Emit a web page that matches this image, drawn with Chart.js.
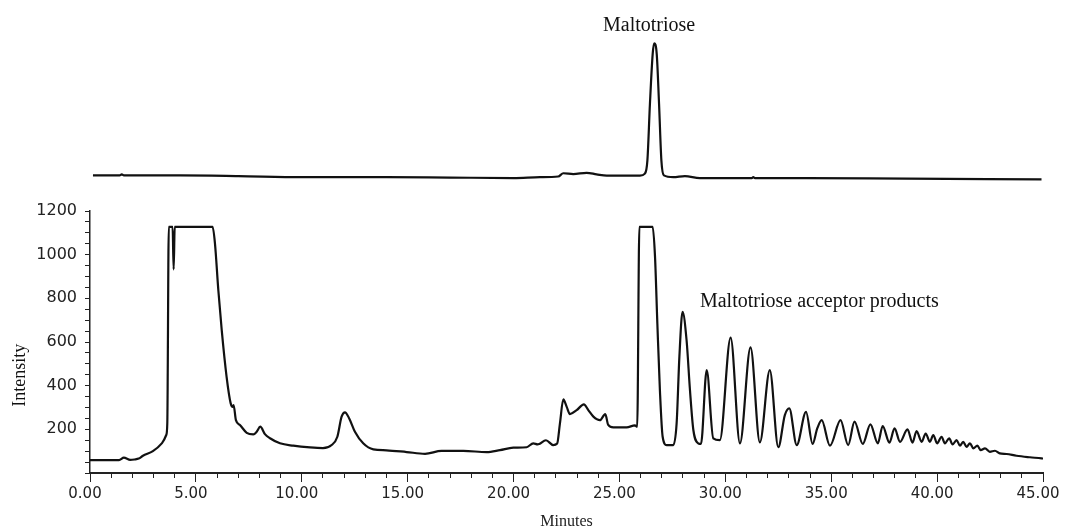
<!DOCTYPE html>
<html>
<head>
<meta charset="utf-8">
<script src="https://cdn.jsdelivr.net/npm/chart.js@4.4.0/dist/chart.umd.min.js"></script>
<style>
  html, body { margin: 0; padding: 0; background: #fff; }
  #chromatogram { display: block; }
</style>
</head>
<body>
<canvas id="chromatogram" width="1065" height="531"></canvas>
<script>
// Reaction mixture: retention time (min) and detector response
const sampleTimes = [
  0.00, 1.37, 1.60, 1.90, 2.10, 2.30, 2.50, 2.97, 3.40, 3.60, 3.65, 3.72, 3.90, 3.95, 4.00,
  5.79, 5.90, 6.06, 6.22, 6.45, 6.64, 6.74, 6.78, 6.89, 7.08, 7.40, 7.71, 7.87, 8.04, 8.26,
  8.50, 8.97, 9.60, 10.39, 11.00, 11.41, 11.68, 11.88, 12.04, 12.24, 12.51, 12.90, 13.38,
  14.00, 14.95, 15.82, 16.60, 17.63, 18.73, 19.36, 19.99, 20.62, 20.93, 21.14, 21.21, 21.53,
  21.87, 22.06, 22.19, 22.35, 22.51, 22.66, 22.98, 23.32, 23.53, 23.77, 24.08, 24.33, 24.47,
  24.71, 25.34, 25.73, 25.84, 25.94, 26.57, 26.68, 26.79, 26.91, 27.04, 27.23, 27.54, 27.70,
  27.83, 27.98, 28.17, 28.33, 28.49, 28.72, 28.85, 29.12, 29.43, 29.74, 30.25, 30.69, 31.19,
  31.63, 32.10, 32.50, 32.81, 33.02, 33.37, 33.81, 34.12, 34.34, 34.55, 34.94, 35.44, 35.80,
  36.10, 36.49, 36.85, 37.20, 37.43, 37.75, 37.99, 38.25, 38.60, 38.84, 39.03, 39.27, 39.46,
  39.66, 39.82, 40.00, 40.21, 40.37, 40.57, 40.73, 40.92, 41.08, 41.23, 41.39, 41.55, 41.71,
  41.90, 42.06, 42.26, 42.49, 42.73, 42.96, 43.28, 43.75, 44.38, 44.93, 45.00
];
const sampleIntensity = [
  59, 59, 70, 60, 62, 66, 79, 100, 137, 174, 228, 1127, 1127, 933, 1127,
  1127, 1052, 837, 654, 440, 320, 303, 311, 242, 220, 184, 177, 189, 212, 178,
  159, 136, 125, 117, 114, 128, 166, 258, 278, 250, 189, 136, 108,
  104, 96, 88, 101, 101, 96, 105, 116, 118, 136, 131, 133, 150,
  128, 135, 227, 337, 303, 270, 288, 314, 288, 258, 242, 270, 220,
  209, 209, 218, 212, 1127, 1127, 990, 685, 380, 166, 128, 128, 227,
  532, 738, 608, 380, 197, 136, 133, 471, 159, 151, 620, 136, 575,
  140, 471, 118, 265, 296, 128, 280, 133, 204, 242, 125, 242, 128,
  235, 133, 223, 136, 215, 139, 204, 143, 200, 139, 192, 143, 181,
  143, 174, 136, 166, 136, 159, 131, 151, 125, 143, 120, 136, 113,
  125, 105, 113, 97, 102, 90, 87, 79, 72, 67, 66
];

// Maltotriose standard run, drawn above the sample trace
const standardTimes = [
  0.14, 1.40, 1.50, 1.60, 4.25, 7.00, 10.00, 14.00, 17.00, 20.00, 21.25, 22.11, 22.35,
  22.82, 23.45, 23.92, 24.40, 25.97, 26.20, 26.32, 26.44, 26.57, 26.64, 26.76, 26.87,
  26.98, 27.10, 27.54, 28.09, 28.80, 31.25, 31.32, 31.40, 33.84, 38.56, 44.93
];
const standardIntensity = [
  0, 0, 5, 0, 0, -3, -8, -8, -10, -12, -8, -5, 10,
  6, 12, 5, -1, -1, 8, 69, 328, 557, 605, 557, 328,
  69, 0, -8, -3, -12, -12, -8, -12, -12, -15, -18
];
const standardOffset = 1363;

const intensityLabels = [200, 400, 600, 800, 1000, 1200];

const toPoints = (xs, ys, shift = 0) => xs.map((t, i) => ({ x: t, y: ys[i] + shift }));

// Peak annotations and the rotated intensity title
const peakLabels = {
  id: 'peakLabels',
  afterDatasetsDraw(chart) {
    const { ctx, scales: { x, y } } = chart;
    ctx.save();
    ctx.fillStyle = '#111';
    ctx.font = '20px "Liberation Serif", "Times New Roman", serif';
    ctx.textBaseline = 'alphabetic';
    ctx.textAlign = 'center';
    ctx.fillText('Maltotriose', x.getPixelForValue(26.4), y.getPixelForValue(2023));
    ctx.textAlign = 'left';
    ctx.fillText('Maltotriose acceptor products', x.getPixelForValue(28.8), y.getPixelForValue(761));

    ctx.font = '18px "Liberation Serif", "Times New Roman", serif';
    ctx.translate(20, y.getPixelForValue(448));
    ctx.rotate(-Math.PI / 2);
    ctx.textAlign = 'center';
    ctx.textBaseline = 'middle';
    ctx.fillText('Intensity', 0, 0);
    ctx.restore();
  }
};

const lineStyle = {
  borderColor: '#111',
  borderWidth: 2.2,
  pointRadius: 0,
  cubicInterpolationMode: 'monotone',
  fill: false,
  xAxisID: 'x',
  yAxisID: 'y'
};

new Chart(document.getElementById('chromatogram'), {
  type: 'line',
  data: {
    datasets: [
      { ...lineStyle, label: 'Maltotriose standard', data: toPoints(standardTimes, standardIntensity, standardOffset), clip: false },
      { ...lineStyle, label: 'Reaction mixture', data: toPoints(sampleTimes, sampleIntensity) }
    ]
  },
  options: {
    responsive: false,
    animation: false,
    layout: { padding: { top: 211, right: 22, bottom: 0, left: 0 } },
    plugins: {
      legend: { display: false },
      tooltip: { enabled: false }
    },
    scales: {
      xMinor: {
        type: 'linear',
        position: 'bottom',
        weight: 0,
        min: 0,
        max: 45,
        ticks: { display: false, stepSize: 1 },
        grid: { drawOnChartArea: false, tickLength: 5, color: '#222' },
        border: { display: false },
        afterFit: s => { s.height = 0; }
      },
      x: {
        type: 'linear',
        position: 'bottom',
        weight: 1,
        min: 0,
        max: 45,
        ticks: {
          stepSize: 5,
          autoSkip: false,
          maxRotation: 0,
          padding: 3,
          labelOffset: -5,
          color: '#222',
          font: { family: '"DejaVu Sans", Verdana, sans-serif', size: 15 },
          callback: v => v.toFixed(2)
        },
        grid: { drawOnChartArea: false, tickLength: 9, color: '#222' },
        border: { display: true, color: '#222', width: 2 },
        title: {
          display: true,
          text: 'Minutes',
          color: '#222',
          padding: { top: 0, bottom: 0 },
          font: { family: '"Liberation Serif", "Times New Roman", serif', size: 16 }
        },
        afterFit: s => { s.height = 58; s.paddingRight = 0; s.paddingLeft = 0; }
      },
      y: {
        type: 'linear',
        min: 0,
        max: 1200,
        ticks: {
          stepSize: 50,
          autoSkip: false,
          padding: 8,
          color: '#222',
          font: { family: '"DejaVu Sans", Verdana, sans-serif', size: 16 },
          callback: v => intensityLabels.includes(v) ? String(v) : ''
        },
        grid: { drawOnChartArea: false, tickLength: 5, color: '#222' },
        border: { display: true, color: '#222', width: 1.5 },
        afterFit: s => { s.width = 90; }
      }
    }
  },
  plugins: [peakLabels]
});
</script>
</body>
</html>
